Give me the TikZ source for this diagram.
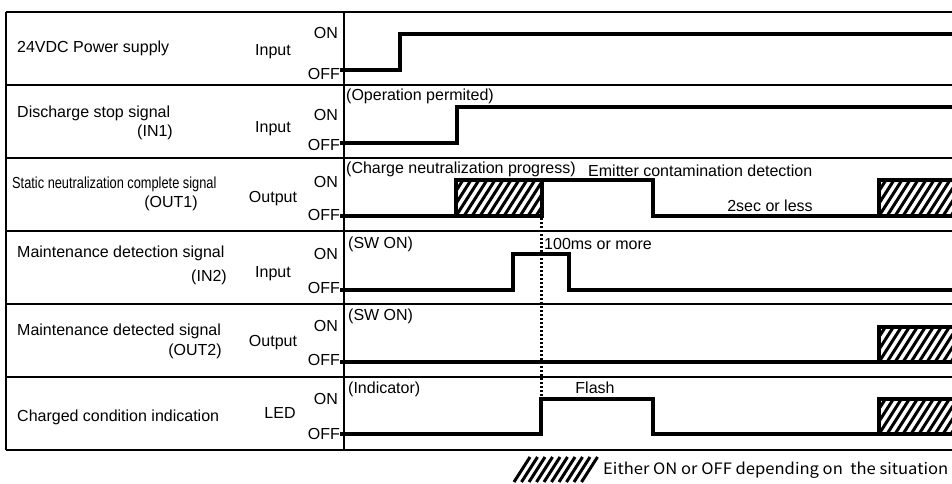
\documentclass[tikz,border=0pt]{standalone}
\usepackage{fontspec}
\setmainfont{Liberation Sans}
\newfontfamily\jpfont{Noto Sans CJK JP}
\usepackage{graphicx}
\newcommand{\hatchbox}[4]{%
  \begin{scope}
    \clip (#1,#2) rectangle (#3,#4);
    \foreach \i in {-32,-24,...,120} {
      \draw[hatchline] (#1+\i,#4) -- ++(23,-36);
    }
  \end{scope}
  \draw[wave] (#1,#2) rectangle (#3,#4);
}
\begin{document}
\begin{tikzpicture}[x=1pt,y=-1pt,
  font=\fontsize{16}{18}\selectfont,
  wave/.style={line width=3.5pt, line join=miter},
  gridline/.style={line width=2.3pt},
  hatchline/.style={line width=3pt},
  lbl/.style={inner sep=0pt, text height=11.5pt, text depth=0pt},
  dotline/.style={line width=3pt, dash pattern=on 2.2pt off 1.8pt}]
\useasboundingbox (0,0) rectangle (952,484);

% table
\draw[line width=2pt] (6,12) -- (960,12);
\foreach \yy in {85,158,231,304,377,450} \draw[gridline] (6,\yy) -- (960,\yy);
\draw[gridline] (6,12) -- (6,450);
\draw[gridline] (344,12) -- (344,450);

% row names
\node[lbl,anchor=west] (n1) at (17,47) {24VDC Power supply};
\node[lbl,anchor=center] (t1) at (273,50) {Input};
\node[lbl,anchor=east] (on1) at (338,33) {ON};
\node[lbl,anchor=east] (off1) at (340,74) {OFF};

\node[lbl,anchor=west] (n2) at (17,112) {Discharge stop signal};
\node[lbl,anchor=center] (n2b) at (155,131) {(IN1)};
\node[lbl,anchor=center] (t2) at (273,127) {Input};
\node[lbl,anchor=east] (on2) at (338,115) {ON};
\node[lbl,anchor=east] (off2) at (340,145) {OFF};

\node[lbl,anchor=west] (n3) at (12,183) {\scalebox{0.8}[1]{Static neutralization complete signal}};
\node[lbl,anchor=center] (n3b) at (171,202) {(OUT1)};
\node[lbl,anchor=center] (t3) at (273,197) {Output};
\node[lbl,anchor=east] (on3) at (338,182) {ON};
\node[lbl,anchor=east] (off3) at (340,215) {OFF};

\node[lbl,anchor=west] (n4) at (17,252) {Maintenance detection signal};
\node[lbl,anchor=center] (n4b) at (209,276) {(IN2)};
\node[lbl,anchor=center] (t4) at (273,272) {Input};
\node[lbl,anchor=east] (on4) at (338,254) {ON};
\node[lbl,anchor=east] (off4) at (340,288) {OFF};

\node[lbl,anchor=west] (n5) at (17,330) {Maintenance detected signal};
\node[lbl,anchor=center] (n5b) at (195,350) {(OUT2)};
\node[lbl,anchor=center] (t5) at (273,341) {Output};
\node[lbl,anchor=east] (on5) at (338,326) {ON};
\node[lbl,anchor=east] (off5) at (340,360) {OFF};

\node[lbl,anchor=west] (n6) at (17,416) {Charged condition indication};
\node[lbl,anchor=center] (t6) at (280,413) {LED};
\node[lbl,anchor=east] (on6) at (338,399) {ON};
\node[lbl,anchor=east] (off6) at (340,434) {OFF};

% waveforms
\draw[wave] (340,70) -- (400,70) -- (400,34) -- (958,34);
\draw[wave] (340,143) -- (457,143) -- (457,107) -- (958,107);

\draw[wave] (340,216) -- (456,216);
\hatchbox{456}{180}{542}{216}
\draw[wave] (542,180) -- (653,180) -- (653,216) -- (879,216);
\hatchbox{879}{180}{960}{216}

\draw[wave] (340,290) -- (513,290) -- (513,254) -- (569,254) -- (569,290) -- (958,290);

\draw[wave] (340,362) -- (879,362);
\hatchbox{879}{327}{960}{362}

\draw[wave] (340,434) -- (541,434) -- (541,399) -- (653,399) -- (653,434) -- (879,434);
\hatchbox{879}{399}{960}{434}

\draw[dotline] (541,218) -- (541,398);

% annotations
\node[lbl,anchor=west] (a1) at (346,95) {(Operation permited)};
\node[lbl,anchor=west] (a2) at (346,168) {(Charge neutralization progress)};
\node[lbl,anchor=west] (a3) at (588,171) {Emitter contamination detection};
\node[lbl,anchor=center] (a4) at (770,206) {2sec or less};
\node[lbl,anchor=west] (a5) at (348,243) {(SW ON)};
\node[lbl,anchor=west] (a6) at (544,244) {100ms or more};
\node[lbl,anchor=west] (a7) at (348,315) {(SW ON)};
\node[lbl,anchor=west] (a8) at (348,388) {(Indicator)};
\node[lbl,anchor=center] (a9) at (595,388) {Flash};

% legend
\foreach \k in {0,...,9} \draw[hatchline] (514+\k*7.5,482) -- ++(16,-25);
\node[inner sep=0pt,anchor=west] (leg) at (603,470) {\resizebox{345pt}{12.5pt}{\jpfont Either ON or OFF depending on\ \ the situation}};
\end{tikzpicture}
\end{document}
